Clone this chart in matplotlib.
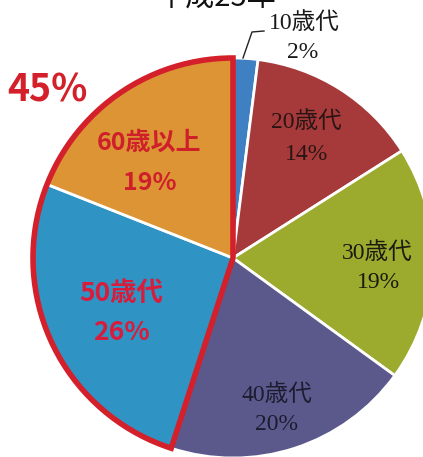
import matplotlib
matplotlib.use("Agg")
import matplotlib.pyplot as plt
from matplotlib.patches import Wedge

# ---- data ----
categories = ["10歳代", "20歳代", "30歳代", "40歳代", "50歳代", "60歳以上"]
values = [2, 14, 19, 20, 26, 19]
title = "平成25年"
group_label = "45%"

colors = ["#3f80c2", "#a63a3a", "#9cab2e", "#5b598c", "#2f93c3", "#dc9434"]

W, H = 423, 457
fig = plt.figure(figsize=(W / 100, H / 100), dpi=100)
ax = fig.add_axes([0, 0, 1, 1])

def py(y):
    return H - y

cx, cy, R = 233, py(258), 200

wedges, _ = ax.pie(values, colors=colors, startangle=90, counterclock=False,
                   center=(cx, cy), radius=R, frame=True,
                   wedgeprops=dict(edgecolor="white", linewidth=2.0))
ax.set_xlim(0, W)
ax.set_ylim(0, H)
ax.set_aspect("equal")
ax.axis("off")

# red outline around the 50s + 60+ group
cum_before = sum(values[:4])
theta1 = 90
theta2 = 90 + 360 * (100 - cum_before) / 100.0
ax.add_patch(Wedge((cx, cy), R, theta1, theta2, facecolor="none",
                   edgecolor="#d3202b", linewidth=4.0, joinstyle="miter", zorder=5))

serif = ["Liberation Serif", "Noto Sans CJK JP"]
gothic = ["Noto Sans CJK JP", "DejaVu Sans"]

def lab(x, y, s, color, fam, size, weight="normal"):
    ax.text(x, py(y), s, color=color, family=fam, fontsize=size,
            ha="center", va="center", weight=weight, zorder=6)

# 10s outside label with leader line
ax.plot([243, 252, 264], [py(58), py(32), py(31)], color="#222222", lw=1.0, zorder=6)
lab(304, 23, categories[0], "#1a1a1a", serif, 17)
lab(303, 52, f"{values[0]}%", "#1a1a1a", serif, 17)

lab(306, 122, categories[1], "#2a1414", serif, 17)
lab(307, 154, f"{values[1]}%", "#2a1414", serif, 17)

lab(377, 253, categories[2], "#1a1a10", serif, 17)
lab(378, 282, f"{values[2]}%", "#1a1a10", serif, 17)

lab(277, 395, categories[3], "#1c1c30", serif, 17)
lab(277, 425, f"{values[3]}%", "#1c1c30", serif, 17)

lab(121, 293, categories[4], "#d81c3c", gothic, 19, "bold")
lab(121, 332, f"{values[4]}%", "#d81c3c", gothic, 19, "bold")

lab(149, 143, categories[5], "#cf1f2a", gothic, 18, "bold")
lab(150, 183, f"{values[5]}%", "#cf1f2a", gothic, 18, "bold")

lab(47, 90, group_label, "#d3202b", gothic, 27, "bold")

ax.text(216, py(-1), title, color="#111111", family=gothic, fontsize=21,
        ha="center", va="center", zorder=6)

fig.savefig("out.png", dpi=100)
